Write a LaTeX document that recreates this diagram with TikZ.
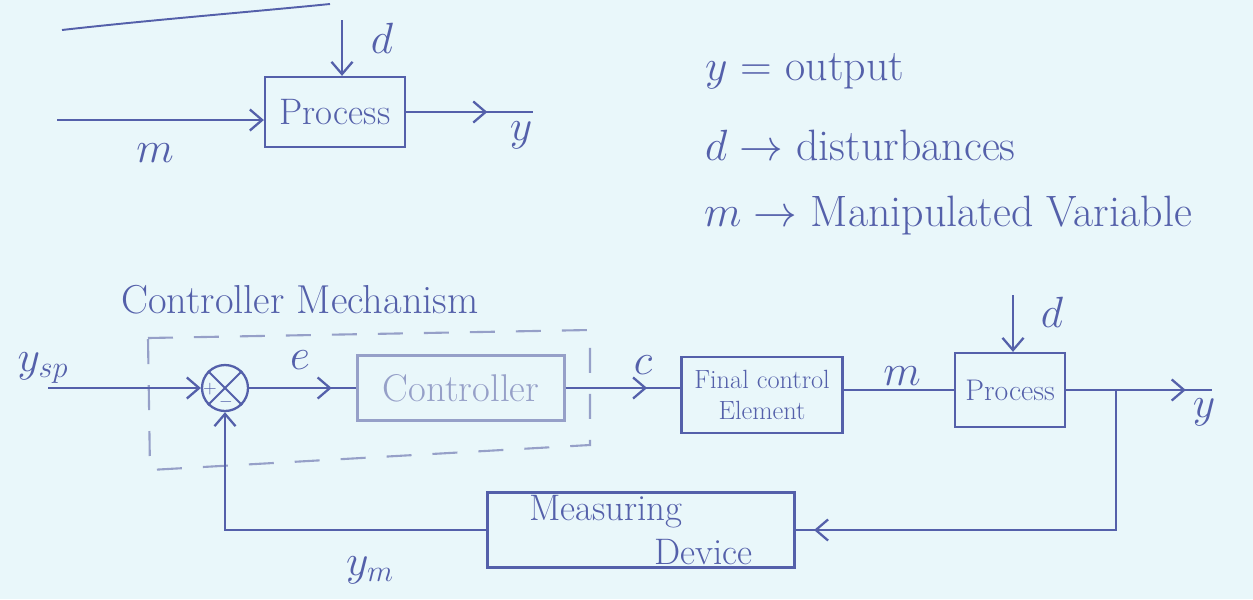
\documentclass[tikz,border=0pt]{standalone}
\usetikzlibrary{arrows.meta,decorations.markings}
\definecolor{paper}{RGB}{233,247,250}
\definecolor{ink}{RGB}{84,96,170}
\definecolor{faint}{RGB}{150,160,200}
\begin{document}
\begin{tikzpicture}[x=0.02cm,y=-0.02cm,
  line width=1.3pt, color=ink,
  >={Straight Barb[length=7pt,width=12pt]},
  block/.style={draw=ink, rectangle, inner sep=0pt, align=center},
  lbl/.style={inner sep=0pt, font=\fontsize{24}{28}\selectfont},
  legend/.style={inner sep=0pt, anchor=base west, font=\fontsize{25}{30}\selectfont},
  flow/.style={postaction={decorate},
    decoration={markings, mark=at position #1 with {\arrow{>}}}},
]
% paper
\fill[paper] (0,0) rectangle (1253,599);
\useasboundingbox (0,0) rectangle (1253,599);

% ---------- open-loop process ----------
\draw[line width=1.1pt] (62,30) .. controls (150,20) and (250,12) .. (330,4);
\node[block, minimum width=2.8cm, minimum height=1.4cm,
      font=\fontsize{21}{25}\selectfont] (proc1) at (335,112) {Process};
\coordinate (in1) at (57,120);
\coordinate (d1) at (342,20);
\coordinate (out1) at (533,112);
\draw[->] (in1) -- (in1 -| proc1.west);
\draw[->] (d1) -- (d1 |- proc1.north);
\draw[flow=0.64] (proc1.east) -- (out1);
\node[lbl] (m1) at (155,153) {$m$};
\node[lbl] (dl1) at (382,38) {$d$};
\node[lbl] (y1) at (521,135) {$y$};

% ---------- legend ----------
\node[legend] (ky) at (704,80) {$y$ = output};
\node[legend] (kd) at (704,160) {$d \rightarrow$ disturbances};
\node[legend] (km) at (703,226) {$m \rightarrow$ Manipulated Variable};

% ---------- closed loop ----------
\node[lbl, font=\fontsize{23}{27}\selectfont] (mech) at (300,300) {Controller Mechanism};
\draw[faint, line width=1.2pt, dash pattern=on 0.5cm off 0.42cm]
  (148,338) -- (590,330) -- (590,445) -- (150,470) -- cycle;

\node[draw=ink, circle, minimum size=0.92cm, inner sep=0pt] (sum) at (225,388) {};
\draw[line width=1.1pt] (sum.north west) -- (sum.south east);
\draw[line width=1.1pt] (sum.north east) -- (sum.south west);
\node[inner sep=0pt, font=\fontsize{10}{12}\selectfont] (plus) at (210,389) {$+$};
\node[inner sep=0pt, font=\fontsize{10}{12}\selectfont] (minus) at (226,402) {$-$};

\node[block, draw=faint, text=faint, minimum width=4.14cm, minimum height=1.3cm,
      font=\fontsize{22}{26}\selectfont] (ctrl) at (461,388) {Controller};
\node[block, minimum width=3.22cm, minimum height=1.52cm,
      font=\fontsize{15}{18}\selectfont] (fce) at (762,395) {Final control\\Element};
\node[block, minimum width=2.2cm, minimum height=1.48cm,
      font=\fontsize{17}{20}\selectfont] (proc2) at (1010,390) {Process};
\node[block, minimum width=6.14cm, minimum height=1.5cm, align=left,
      font=\fontsize{21}{25}\selectfont] (md) at (641,530)
      {Measuring\\\hspace*{3.4em}Device};

\coordinate (sp) at (48,388);
\coordinate (d2) at (1013,295);
\coordinate (out2) at (1212,390);
\coordinate (br) at (1116,390);

\draw[->] (sp) -- (sum.west);
\draw[flow=0.77] (sum.east) -- (ctrl.west);
\draw[flow=0.71] (ctrl.east) -- (ctrl.east -| fce.west);
\draw (proc2.west -| fce.east) -- (proc2.west);
\draw[->] (d2) -- (d2 |- proc2.north);
\draw[flow=0.82] (proc2.east) -- (out2);
\draw[flow=0.96] (br) |- (md.east);
\draw[->] (md.west) -| (sum.south);

\node[lbl] (ysp) at (43,368) {$y_{sp}$};
\node[lbl] (el) at (300,360) {$e$};
\node[lbl] (cl) at (643,365) {$c$};
\node[lbl] (m2) at (902,376) {$m$};
\node[lbl] (dl2) at (1052,312) {$d$};
\node[lbl] (y2) at (1204,412) {$y$};
\node[lbl] (ym) at (370,570) {$y_m$};
\end{tikzpicture}
\end{document}
